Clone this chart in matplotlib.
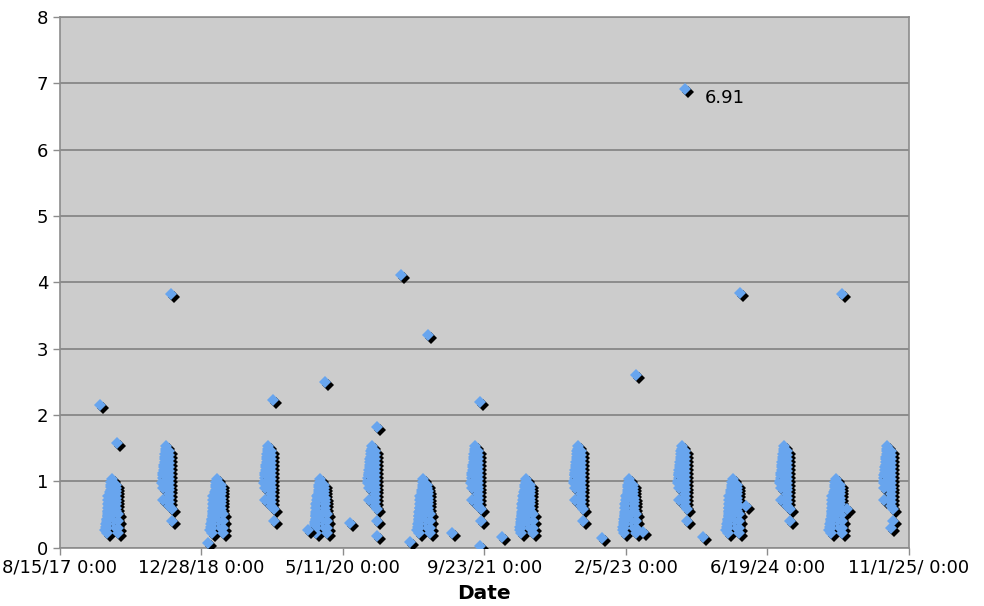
import numpy as np
import pandas as pd
import matplotlib
matplotlib.use('Agg')
import matplotlib.pyplot as plt
import matplotlib.transforms as mtransforms

# dates where each burst of readings peaks
low_dates = ['2018-02-15', '2019-02-21', '2020-02-21', '2021-02-20',
             '2022-02-17', '2023-02-16', '2024-02-17', '2025-02-15']
high_dates = ['2018-08-26', '2019-08-21', '2020-08-21', '2021-08-21',
              '2022-08-19', '2023-08-21', '2024-08-16', '2025-08-16']

# shape of a "low" burst (days from peak date, reading), column by column
low_a_off = [0, -1, -2, -3, -4, -5, -6, -7, -8, -9, -10, -11, -12, -13, -14, -16, -17, -19, -20, -22]
low_a_val = [1.03, 0.99, 0.95, 0.91, 0.87, 0.83, 0.79, 0.75, 0.71, 0.67,
             0.63, 0.59, 0.55, 0.51, 0.47, 0.43, 0.39, 0.35, 0.31, 0.27]
low_b_off = [-12, -12, -13, -13, -14, -14, -15, -15, -16, -16]
low_b_val = [0.78, 0.72, 0.66, 0.60, 0.54, 0.48, 0.42, 0.36, 0.30, 0.22]
low_c_off = [14, 14, 15, 15, 16, 16, 16, 16, 16, 16, 16, 16, 16, 16]
low_c_val = [0.95, 0.90, 0.85, 0.80, 0.75, 0.70, 0.65, 0.60, 0.55, 0.50, 0.45, 0.40, 0.35, 0.30]
low_d_off = [24, 24, 24, 24]
low_d_val = [0.50, 0.40, 0.30, 0.22]

# shape of a "high" burst
high_a_off = [0, 0, -1, -2, -3, -4, -5, -6, -7, -8, -9, -10, -11, -12, -13]
high_a_val = [1.53, 1.49, 1.45, 1.41, 1.37, 1.33, 1.29, 1.25, 1.21, 1.17, 1.13, 1.09, 1.05, 1.01, 0.97]
high_b_off = [12, 12, 12, 12, 12, 12, 12, 12, 12, 12, 12, 12, 12, 12, 12]
high_b_val = [1.46, 1.40, 1.34, 1.28, 1.22, 1.16, 1.10, 1.04, 0.98, 0.92, 0.86, 0.80, 0.74, 0.68, 0.62]
high_c_off = [-8, -9, -10, -10]
high_c_val = [1.10, 0.98, 0.90, 0.72]
high_d_off = [20, 20]
high_d_val = [0.58, 0.40]

# isolated readings
odd_dates = ['2018-01-05', '2018-03-05', '2018-09-13', '2019-09-08', '2019-01-22',
             '2020-01-09', '2020-03-09', '2020-06-06', '2020-09-10', '2020-09-08',
             '2020-12-03', '2021-01-04', '2021-03-08', '2021-05-31', '2021-09-08',
             '2021-09-08', '2021-11-23', '2022-11-11', '2023-04-07', '2023-03-13',
             '2023-09-02', '2023-11-05', '2024-03-14', '2024-04-06', '2025-03-09',
             '2025-03-26', '2025-08-31']
odd_vals = [2.15, 1.58, 3.83, 2.22, 0.07,
            0.26, 2.50, 0.37, 1.82, 0.17,
            4.11, 0.09, 3.20, 0.22, 2.20,
            0.02, 0.16, 0.14, 0.24, 2.60,
            6.91, 0.16, 3.84, 0.62, 3.83,
            0.58, 0.29]

x_tick_dates = ['2017-08-15', '2018-12-28', '2020-05-11', '2021-09-23',
                '2023-02-05', '2024-06-19', '2025-11-01']
x_tick_labels = ['8/15/17 0:00', '12/28/18 0:00', '5/11/20 0:00', '9/23/21 0:00',
                 '2/5/23 0:00', '6/19/24 0:00', '11/1/25/ 0:00']

blue = '#68a5ee'
ms = 6.3

fig = plt.figure(figsize=(9.84, 6.06), dpi=100)
ax = fig.add_axes([0.0605, 0.0965, 0.8633, 0.8755])
shadow = mtransforms.offset_copy(ax.transData, fig=fig, x=3, y=-3, units='dots')


def diamonds(dates, vals):
    ax.plot(dates, vals, 'D', color='black', ms=ms, mew=0, transform=shadow, zorder=3)
    ax.plot(dates, vals, 'D', color=blue, ms=ms, mew=0, zorder=3)


# drawing order matters: later columns put their shadows over earlier ones
low_cols = [(low_a_off, low_a_val), (low_b_off, low_b_val), (low_c_off, low_c_val), (low_d_off, low_d_val)]
high_cols = [(high_a_off, high_a_val), (high_c_off, high_c_val), (high_b_off, high_b_val), (high_d_off, high_d_val)]

for d in low_dates:
    for off, val in low_cols:
        diamonds(pd.Timestamp(d) + pd.to_timedelta(off, unit='D'), val)
for d in high_dates:
    for off, val in high_cols:
        diamonds(pd.Timestamp(d) + pd.to_timedelta(off, unit='D'), val)
diamonds(pd.to_datetime(odd_dates), odd_vals)

# label on the biggest reading
i = int(np.argmax(odd_vals))
ax.annotate('%.2f' % odd_vals[i], (pd.Timestamp(odd_dates[i]), odd_vals[i]),
            xytext=(14, -6), textcoords='offset points', va='center', ha='left', fontsize=13)

ax.set_facecolor('#cccccc')
ax.set_xlim(pd.Timestamp('2017-08-15'), pd.Timestamp('2025-11-01'))
ax.set_ylim(0, 8)
ax.set_yticks(range(0, 9))
ax.set_xticks(pd.to_datetime(x_tick_dates))
ax.set_xticklabels(x_tick_labels)
ax.grid(axis='y', color='#8c8c8c', linewidth=1.4, zorder=1)
ax.set_axisbelow(True)
for s in ax.spines.values():
    s.set_color('#8c8c8c')
    s.set_linewidth(1.2)
ax.tick_params(direction='out', length=5, width=1, color='#8c8c8c', labelsize=13, pad=3)
ax.set_xlabel('Date', fontsize=14.5, fontweight='bold', labelpad=5)

fig.savefig('out.png', dpi=100)
plt.close(fig)
